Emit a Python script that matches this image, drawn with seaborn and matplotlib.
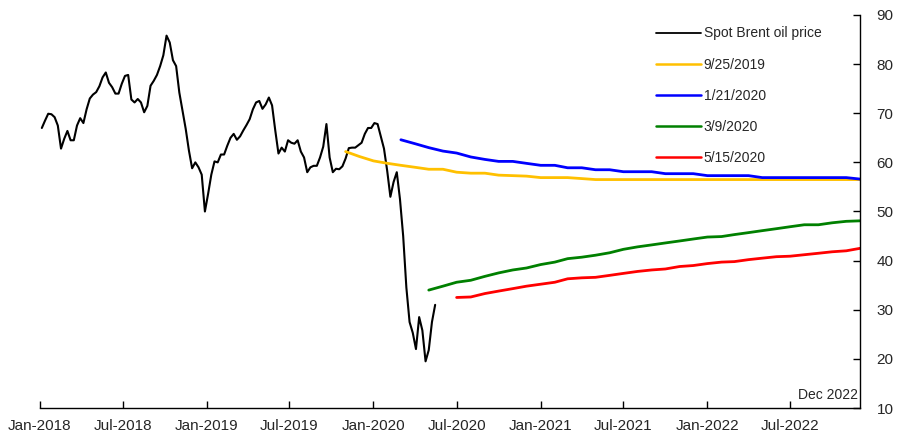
import seaborn as sns
import numpy as np
import matplotlib.pyplot as plt
import matplotlib.dates as mdates
import pandas as pd

# weekly spot Brent price (Fridays, Jan 2018 - May 2020)
spot_start = "2018-01-05"
spot_price = [
    67.0, 68.5, 69.9, 69.8, 69.2, 67.5, 62.8, 64.8, 66.4, 64.5,
    64.5, 67.5, 69.0, 68.0, 70.8, 73.0, 73.8, 74.3, 75.5, 77.3,
    78.3, 76.2, 75.3, 74.0, 74.0, 76.0, 77.6, 77.8, 72.8, 72.2,
    72.9, 72.2, 70.2, 71.5, 75.6, 76.6, 77.8, 79.6, 81.8, 85.8,
    84.4, 80.8, 79.6, 74.2, 70.5, 66.8, 62.4, 58.8, 60.0, 59.0,
    57.5, 50.0, 53.6, 57.5, 60.2, 60.0, 61.6, 61.6, 63.4, 65.0,
    65.8, 64.6, 65.3, 66.5, 67.6, 68.8, 70.8, 72.2, 72.5, 70.9,
    71.8, 73.2, 71.6, 66.5, 61.8, 63.0, 62.2, 64.5, 64.0, 63.8,
    64.5, 62.2, 61.0, 58.0, 59.0, 59.3, 59.3, 61.0, 63.2, 67.8,
    61.0, 58.0, 58.7, 58.6, 59.2, 60.8, 62.9, 63.0, 63.0, 63.5,
    64.0, 65.8, 67.0, 67.0, 68.0, 67.8, 65.3, 62.8, 58.3, 53.0,
    56.0, 58.0, 52.5, 45.0, 34.5, 27.5, 25.3, 22.0, 28.5, 25.8,
    19.5, 21.8, 27.5, 31.0,
]

# futures curves (monthly contracts up to Dec 2022)
curve_labels = ["9/25/2019", "1/21/2020", "3/9/2020", "5/15/2020"]
curve_starts = ["2019-11-01", "2020-03-01", "2020-05-01", "2020-07-01"]
curve_colors = ["#FFC000", "#0000FF", "#008000", "#FF0000"]

fut_sep19 = [
    62.2, 61.2, 60.3, 59.8, 59.4, 59.0, 58.6, 58.6, 58.0, 57.8,
    57.8, 57.4, 57.3, 57.2, 56.9, 56.9, 56.9, 56.7, 56.5, 56.5,
    56.5, 56.5, 56.5, 56.5, 56.5, 56.5, 56.5, 56.5, 56.5, 56.5,
    56.5, 56.5, 56.5, 56.5, 56.5, 56.5, 56.5, 56.5,
]
fut_jan20 = [
    64.6, 63.8, 63.0, 62.3, 61.9, 61.1, 60.6, 60.2, 60.2, 59.8,
    59.4, 59.4, 58.9, 58.9, 58.5, 58.5, 58.1, 58.1, 58.1, 57.7,
    57.7, 57.7, 57.3, 57.3, 57.3, 57.3, 56.9, 56.9, 56.9, 56.9,
    56.9, 56.9, 56.9, 56.6,
]
fut_mar20 = [
    34.0, 34.8, 35.6, 36.0, 36.8, 37.5, 38.1, 38.5, 39.2, 39.7,
    40.4, 40.7, 41.1, 41.6, 42.3, 42.8, 43.2, 43.6, 44.0, 44.4,
    44.8, 44.9, 45.3, 45.7, 46.1, 46.5, 46.9, 47.3, 47.3, 47.7,
    48.0, 48.1,
]
fut_may20 = [
    32.5, 32.6, 33.3, 33.8, 34.3, 34.8, 35.2, 35.6, 36.3, 36.5,
    36.6, 37.0, 37.4, 37.8, 38.1, 38.3, 38.8, 39.0, 39.4, 39.7,
    39.8, 40.2, 40.5, 40.8, 40.9, 41.2, 41.5, 41.8, 42.0, 42.5,
]
curves = [fut_sep19, fut_jan20, fut_mar20, fut_may20]

sns.set_theme(style="white")
plt.rcParams["font.family"] = ["Liberation Sans", "DejaVu Sans"]

fig = plt.figure(figsize=(8.97, 4.32), dpi=100)
ax = fig.add_axes([40 / 897, 1 - 408 / 432, 820 / 897, 393 / 432])

spot_dates = pd.date_range(spot_start, periods=len(spot_price), freq="W-FRI")
sns.lineplot(x=spot_dates, y=spot_price, ax=ax, color="black", lw=1.5,
             label="Spot Brent oil price")

for lab, start, col, vals in zip(curve_labels, curve_starts, curve_colors, curves):
    d = pd.date_range(start, periods=len(vals), freq="MS")
    sns.lineplot(x=d, y=vals, ax=ax, color=col, lw=2.0, label=lab)

ax.set_xlim(pd.Timestamp("2018-01-01"), pd.Timestamp("2022-12-01"))
ax.set_ylim(10, 90)
ax.set_xlabel("")
ax.set_ylabel("")

ax.xaxis.set_major_locator(mdates.MonthLocator(bymonth=[1, 7]))
ax.xaxis.set_major_formatter(mdates.DateFormatter("%b-%Y"))
ax.set_yticks(range(10, 91, 10))
ax.yaxis.tick_right()

for s in ["top", "left"]:
    ax.spines[s].set_visible(False)
for s in ["bottom", "right"]:
    ax.spines[s].set_color("black")
    ax.spines[s].set_linewidth(1.0)

ax.tick_params(axis="x", direction="in", length=5, width=1, color="black",
               labelsize=11, pad=8, bottom=True)
ax.tick_params(axis="y", direction="in", length=5, width=1, color="black",
               labelsize=11, pad=12, right=True, left=False,
               labelright=True, labelleft=False)

ax.text(0.997, 0.015, "Dec 2022", transform=ax.transAxes, ha="right",
        va="bottom", fontsize=10)

leg = ax.legend(loc="upper left", bbox_to_anchor=(0.745, 0.985), frameon=False,
                fontsize=10, handlelength=3.2, handletextpad=0.2,
                labelspacing=1.23, borderaxespad=0.0)
for h in leg.get_lines():
    h.set_linewidth(1.8)
leg.get_lines()[0].set_linewidth(1.3)

fig.savefig("out.png", dpi=100)
